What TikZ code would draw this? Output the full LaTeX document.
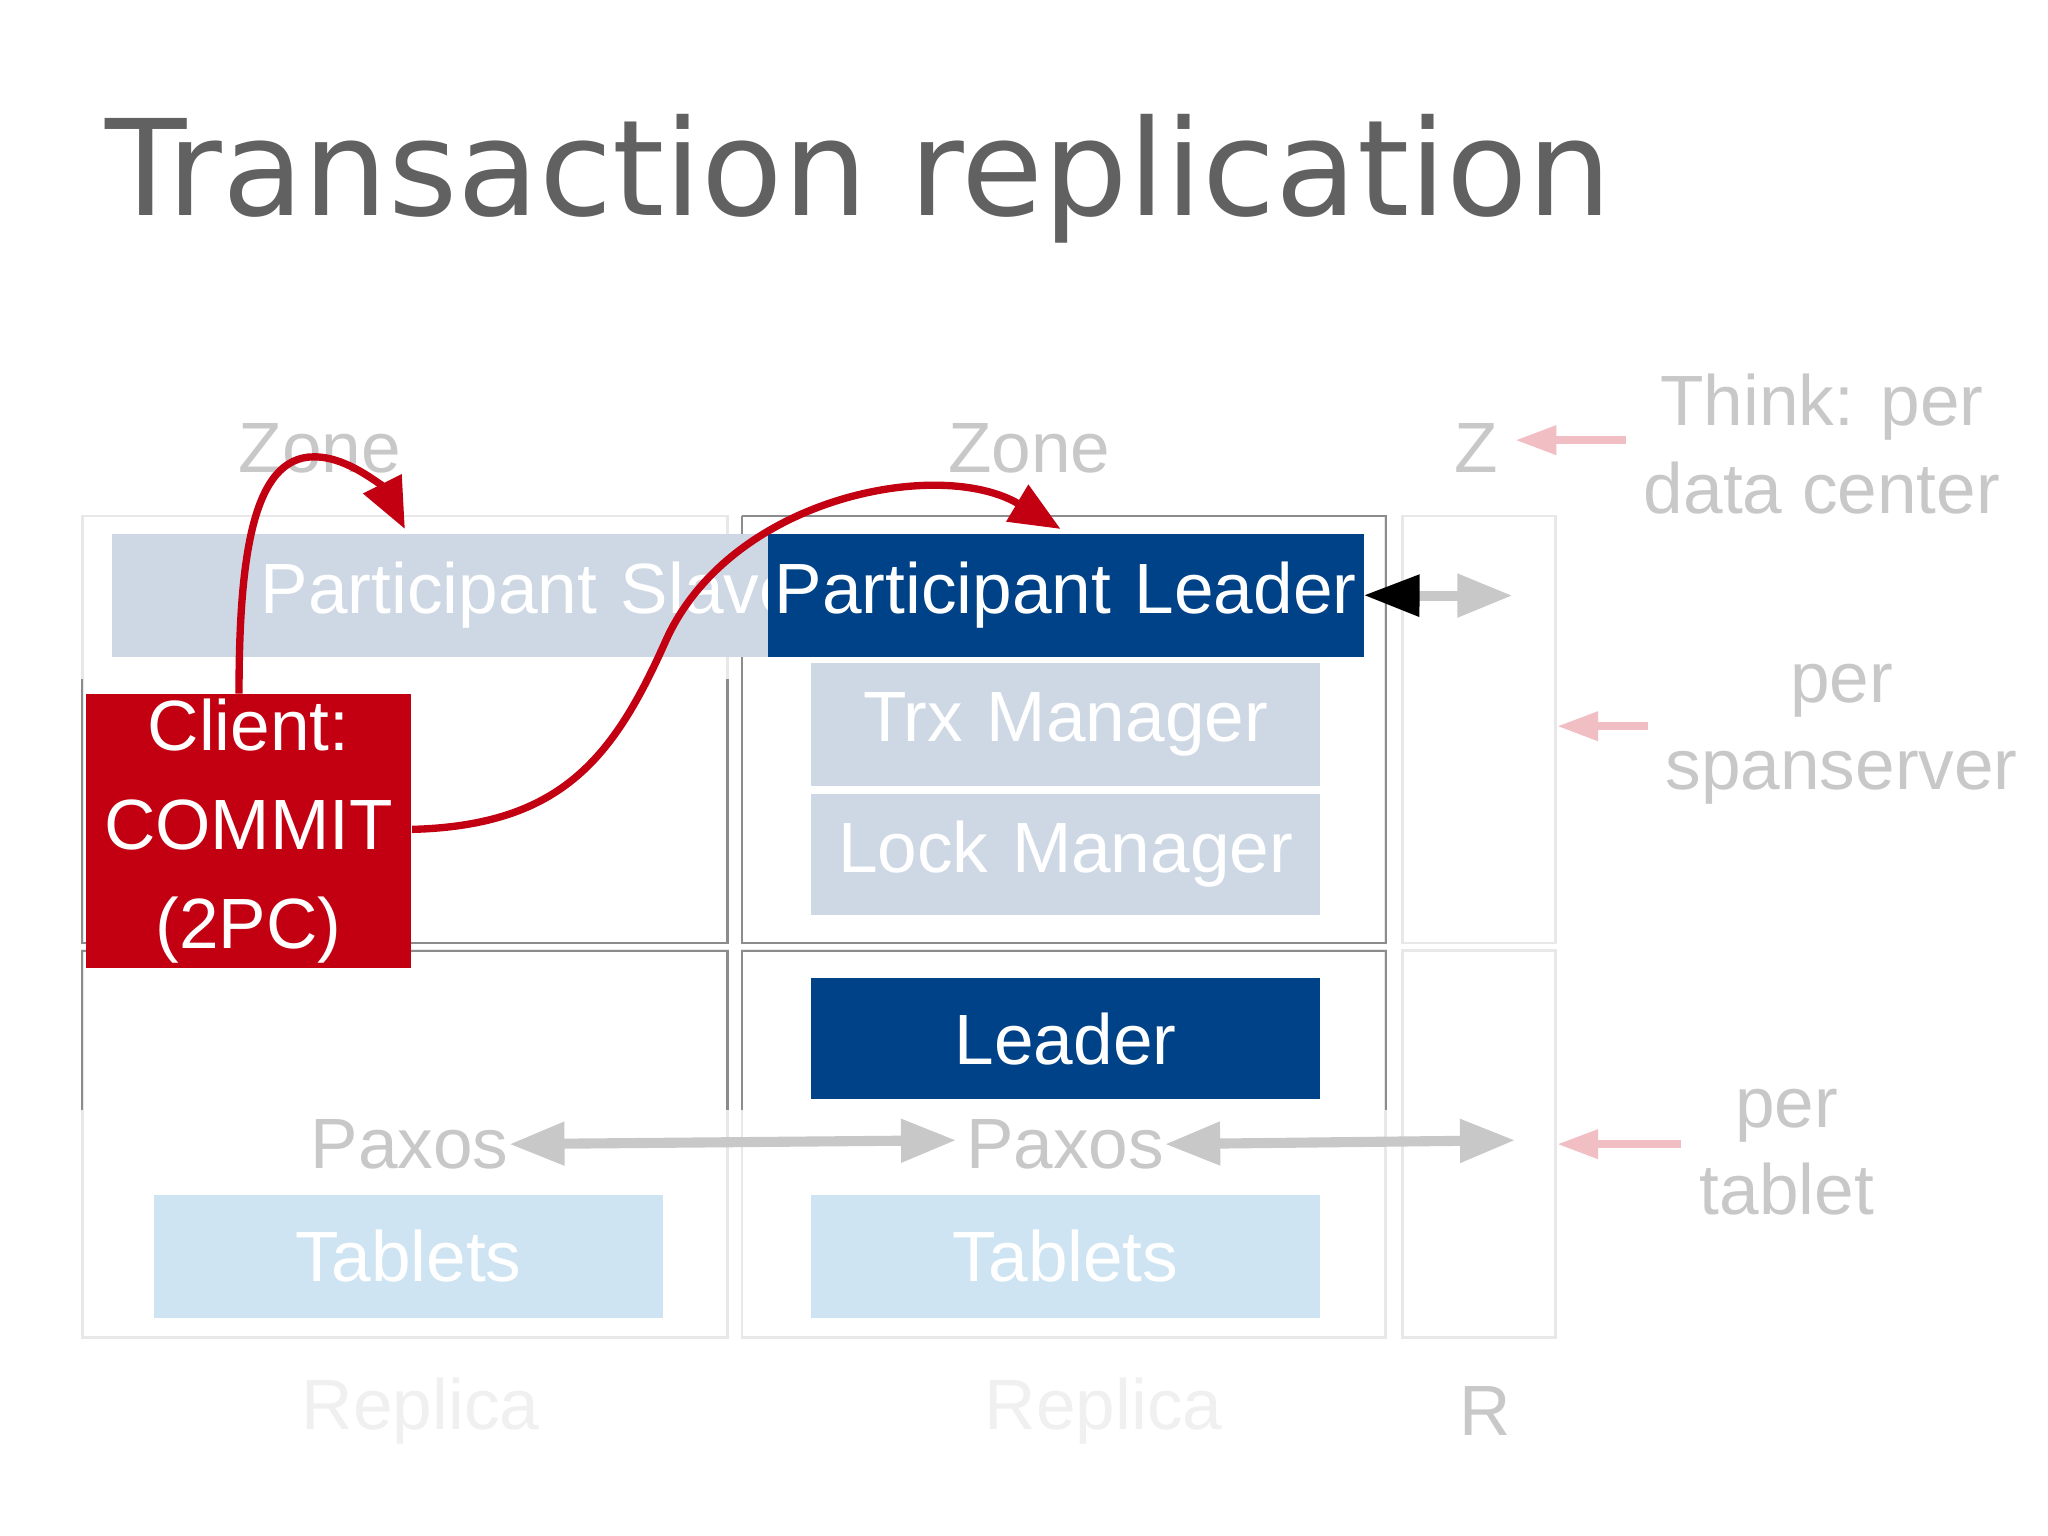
\documentclass[tikz,border=0pt]{standalone}
\usepackage{fontspec}
\setmainfont{Liberation Sans}
\newfontfamily\titlefont{DejaVu Sans}
\usetikzlibrary{arrows.meta}
\definecolor{lbox}{RGB}{206,216,228}
\definecolor{dbox}{RGB}{0,66,136}
\definecolor{tbox}{RGB}{206,228,242}
\definecolor{cred}{RGB}{194,0,18}
\definecolor{faint}{RGB}{200,200,200}
\definecolor{frame}{RGB}{232,232,232}
\definecolor{pinkc}{RGB}{240,190,195}
\begin{document}
\begin{tikzpicture}[x=0.01cm,y=-0.01cm,
  box/.style={draw=none,anchor=north west,inner sep=0pt,text=white,font=\fontsize{15.5}{18}\selectfont},
  lab/.style={text=faint,font=\fontsize{15.5}{19}\selectfont,align=center,inner sep=0pt},
  fr/.style={draw=frame,line width=0.6pt},
  garr/.style={draw=faint,line width=2.2pt,{Triangle[length=12pt,width=9pt]}-{Triangle[length=12pt,width=9pt]}},
  parr/.style={draw=pinkc,line width=1.8pt,-{Triangle[length=9pt,width=6pt]}},
  rarr/.style={draw=cred,line width=1.6pt,-{Triangle[length=11pt,width=9pt]}}]
\useasboundingbox (0,0) rectangle (1568,1176);
\fill[white] (0,0) rectangle (1568,1176);
\node[anchor=base west,inner sep=0pt,text=black!62,font=\titlefont\fontsize{29}{34}\selectfont] (title) at (80,165) {Transaction replication};
% frames
\draw[fr] (63,395) rectangle (557,722);
\draw[fr] (63,728) rectangle (557,1024);
\draw[fr] (568,395) rectangle (1061,722);
\draw[fr] (568,728) rectangle (1061,1024);
\draw[fr] (1074,395) rectangle (1191,722);
\draw[fr] (1074,728) rectangle (1191,1024);
\draw[black!45,line width=0.5pt] (63,520)--(63,722)--(557,722)--(557,520);
\draw[black!45,line width=0.5pt] (568,395)--(1061,395)--(1061,722)--(568,722)--(568,395);
\draw[black!45,line width=0.5pt] (63,850)--(63,728)--(557,728)--(557,850);
\draw[black!45,line width=0.5pt] (568,850)--(568,728)--(1061,728)--(1061,850);
% labels
\node[lab] (z1) at (245,343) {Zone};
\node[lab] (z2) at (788,343) {Zone};
\node[lab] (z3) at (1130,343) {Z};
% boxes
\node[box,fill=lbox,minimum width=455\pgflinewidth,text width=455*0.01cm,minimum height=0.94cm,align=center] (ps) at (85,408) {Participant Slave};
\node[box,fill=dbox,text width=4.56cm,minimum height=0.94cm,align=center] (pl) at (587,408) {Participant Leader};
\node[box,fill=lbox,text width=3.9cm,minimum height=0.94cm,align=center] (trx) at (620,507) {Trx Manager};
\node[box,fill=lbox,text width=3.9cm,minimum height=0.93cm,align=center] (lock) at (620,607) {Lock Manager};
\node[box,fill=dbox,text width=3.9cm,minimum height=0.93cm,align=center] (lead) at (620,748) {Leader};
\node[box,fill=tbox,text width=3.9cm,minimum height=0.94cm,align=center] (tab1) at (117,914) {Tablets};
\node[box,fill=tbox,text width=3.9cm,minimum height=0.94cm,align=center] (tab2) at (620,914) {Tablets};
\node[box,fill=cred,text width=2.49cm,minimum height=2.09cm,align=center,font=\fontsize{15.5}{21.5}\selectfont] (cl) at (65,531) {Client:\\COMMIT\\(2PC)};
% paxos
\node[lab,anchor=east] (px1) at (390,876) {Paxos};
\node[lab,anchor=east] (px2) at (892,876) {Paxos};
\coordinate (pe1) at (732,873);
\coordinate (pe2) at (1160,873);
\draw[garr] (px1.east) -- (pe1);
\draw[garr] (px2.east) -- (pe2);
\coordinate (le) at (1158,456);
\draw[faint,line width=2.2pt,-{Triangle[length=12pt,width=9pt]}] (1075,456) -- (le);
\draw[black,line width=1.2pt,-{Triangle[length=12pt,width=9pt]}] (1080,456) -- (pl.east);
% right notes
\node[lab] (n1) at (1395,340) {Think: per\\data center};
\node[lab] (n2) at (1410,562) {per\\spanserver};
\node[lab] (n3) at (1368,882) {per\\tablet};
\coordinate (a1s) at (1245,337); \coordinate (a1e) at (1160,337);
\coordinate (a2s) at (1262,556); \coordinate (a2e) at (1192,556);
\coordinate (a3s) at (1287,876); \coordinate (a3e) at (1192,876);
\draw[parr] (a1s)--(a1e);
\draw[parr] (a2s)--(a2e);
\draw[parr] (a3s)--(a3e);
\node[lab,text=black!6] (r1) at (322,1080) {Replica};
\node[lab,text=black!6] (r2) at (845,1080) {Replica};
\node[lab] (r3) at (1137,1080) {R};
% red curves
\coordinate (c1) at (310,405);
\coordinate (c2) at (812,405);
\draw[rarr] (183,531) .. controls (183,420) and (195,345) .. (245,350) .. controls (270,352) and (295,375) .. (c1);
\draw[rarr] (cl.east |- 0,635) .. controls (430,632) and (470,580) .. (510,490) .. controls (560,380) and (720,350) .. (c2);
\end{tikzpicture}
\end{document}
